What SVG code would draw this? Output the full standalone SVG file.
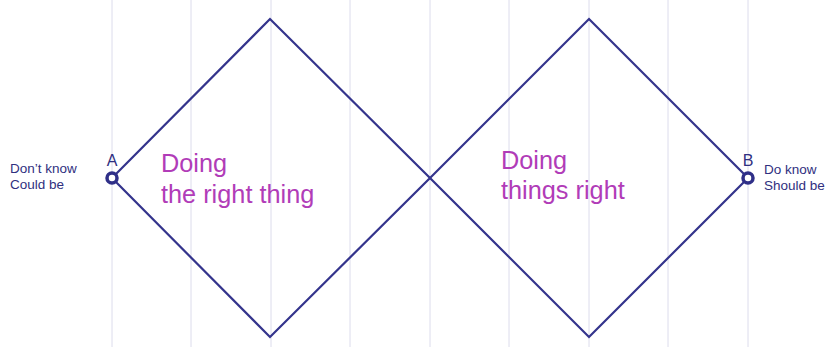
<svg xmlns="http://www.w3.org/2000/svg" width="825" height="347" viewBox="0 0 825 347">
<style>
.grid{stroke:#dcdcec;stroke-width:1}
.edge{fill:none;stroke:#34348c;stroke-width:2.2;stroke-linejoin:miter}
.big{font-family:"Liberation Sans",Arial,sans-serif;font-size:25.3px;fill:#b13cb8}
.small{font-family:"Liberation Sans",Arial,sans-serif;font-size:13.5px;fill:#2f2f80}
.lbl{font-family:"Liberation Sans",Arial,sans-serif;font-size:16px;fill:#2f2f80}
.pt{fill:#fff;stroke:#2f2f88;stroke-width:3.5}
</style>
<rect width="825" height="347" fill="#fff"/>
<g id="grid">
<line class="grid" x1="112" y1="0" x2="112" y2="347"/>
<line class="grid" x1="191" y1="0" x2="191" y2="347"/>
<line class="grid" x1="271" y1="0" x2="271" y2="347"/>
<line class="grid" x1="350" y1="0" x2="350" y2="347"/>
<line class="grid" x1="430" y1="0" x2="430" y2="347"/>
<line class="grid" x1="509" y1="0" x2="509" y2="347"/>
<line class="grid" x1="589" y1="0" x2="589" y2="347"/>
<line class="grid" x1="668" y1="0" x2="668" y2="347"/>
<line class="grid" x1="748" y1="0" x2="748" y2="347"/>
</g>
<g id="connectors">
<polygon class="edge" points="112,178 270,19 430,178 270,337"/>
<polygon class="edge" points="430,178 589,19 748,178 589,337"/>
</g>
<g id="discover">
<text class="big" x="161" y="172">Doing</text>
<text class="big" x="161" y="203">the right thing</text>
</g>
<g id="deliver">
<text class="big" x="501" y="169">Doing</text>
<text class="big" x="501" y="199">things right</text>
</g>
<g id="nodeA">
<circle class="pt" cx="112" cy="178" r="5"/>
<text class="lbl" x="112" y="166" text-anchor="middle">A</text>
<text class="small" x="10" y="173">Don’t know</text>
<text class="small" x="10" y="189">Could be</text>
</g>
<g id="nodeB">
<circle class="pt" cx="748" cy="178" r="5"/>
<text class="lbl" x="748" y="166" text-anchor="middle">B</text>
<text class="small" x="764" y="174">Do know</text>
<text class="small" x="764" y="190">Should be</text>
</g>
</svg>
